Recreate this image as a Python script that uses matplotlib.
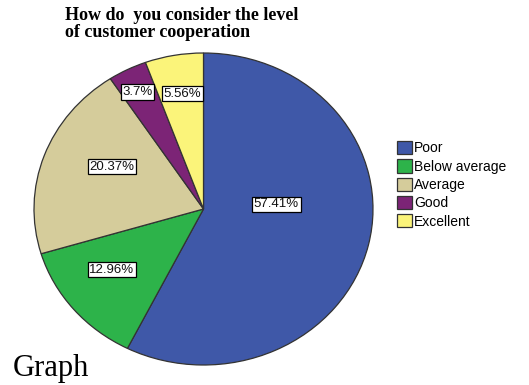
import matplotlib
matplotlib.use('Agg')
import matplotlib.pyplot as plt
import numpy as np

# Survey answers, clockwise from 12 o'clock
categories = ['Poor', 'Below average', 'Average', 'Good', 'Excellent']
shares = [57.41, 12.96, 20.37, 3.7, 5.56]
pct_labels = ['57.41%', '12.96%', '20.37%', '3.7%', '5.56%']
colors = ['#3f58a8', '#2db34a', '#d5cc9b', '#7c2476', '#fbf47a']

# where each percentage box sits, in axes data units
label_pos = [(0.43, 0.03), (-0.54, -0.39), (-0.54, 0.27), (-0.39, 0.75), (-0.125, 0.74)]

fig = plt.figure(figsize=(5.29, 3.85), dpi=100)
ax = fig.add_axes([34 / 529, 20 / 385, 339 / 529, 312 / 385])

wedges, _ = ax.pie(shares, colors=colors, startangle=90, counterclock=False,
                   wedgeprops=dict(edgecolor='#333333', linewidth=0.9))
ax.set_aspect('auto')
ax.set_xlim(-1, 1)
ax.set_ylim(-1, 1)

for txt, (x, y) in zip(pct_labels, label_pos):
    ax.text(x, y, txt, ha='center', va='center', fontsize=9.5,
            family='Liberation Sans', color='#111111',
            bbox=dict(boxstyle='square,pad=0.12', fc='white', ec='black', lw=0.9))

leg = fig.legend(wedges, categories, loc='upper left', bbox_to_anchor=(397 / 529, 1 - 141 / 385),
                 frameon=False, prop={'family': 'Liberation Sans', 'size': 10},
                 handlelength=1.1, handleheight=1.1, handletextpad=0.15, labelspacing=0.28,
                 borderpad=0, borderaxespad=0)

fig.text(65 / 529, 1 - 7 / 385, 'How do  you consider the level\nof customer cooperation',
         ha='left', va='top', family='Liberation Serif', weight='bold', fontsize=13,
         linespacing=1.0)
fig.text(13 / 529, 2 / 385, 'Graph', ha='left', va='bottom', family='Liberation Serif',
         fontsize=22)

fig.savefig('out.png', dpi=100)
